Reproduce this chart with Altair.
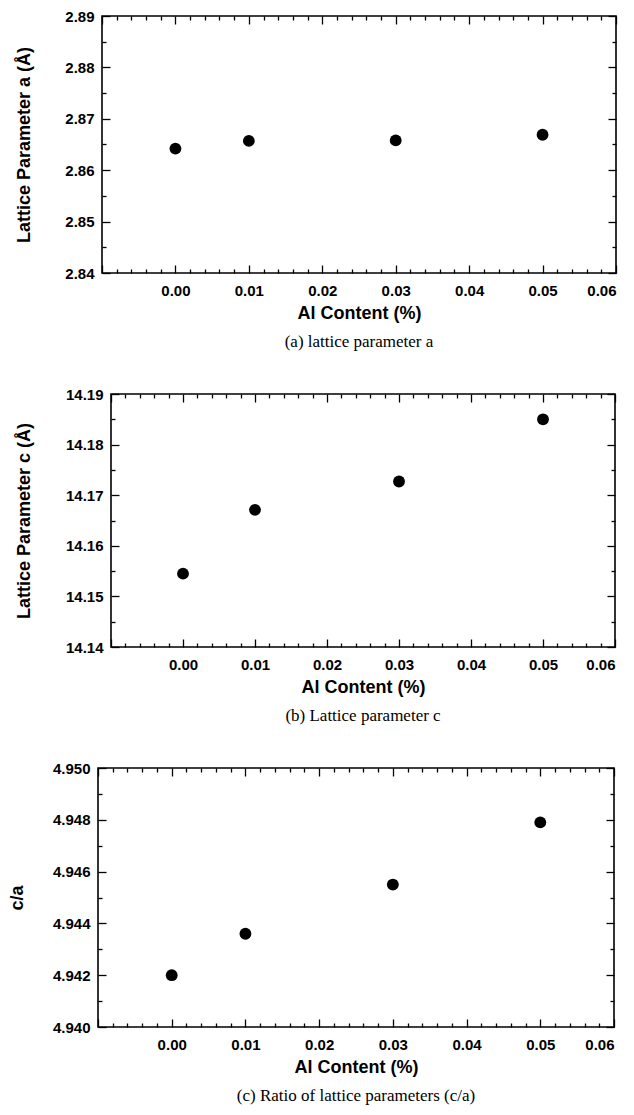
import altair as alt
import pandas as pd

# ---- data ----
al_content = [0.00, 0.01, 0.03, 0.05]
lattice_a = [2.8642, 2.8657, 2.8658, 2.8669]
lattice_c = [14.1545, 14.1671, 14.1727, 14.1850]
ratio_ca = [4.9420, 4.9436, 4.9455, 4.9479]

x_domain = [-0.01, 0.06]
x_labels = [0.00, 0.01, 0.02, 0.03, 0.04, 0.05, 0.06]
x_ticks = [round(-0.01 + 0.002 * i, 3) for i in range(36)]

a_domain = [2.84, 2.89]
a_labels = [2.84, 2.85, 2.86, 2.87, 2.88, 2.89]
a_ticks = [round(2.84 + 0.005 * i, 3) for i in range(11)]

c_domain = [14.14, 14.19]
c_labels = [14.14, 14.15, 14.16, 14.17, 14.18, 14.19]
c_ticks = [round(14.14 + 0.005 * i, 3) for i in range(11)]

r_domain = [4.940, 4.950]
r_labels = [4.940, 4.942, 4.944, 4.946, 4.948, 4.950]
r_ticks = [round(4.940 + 0.001 * i, 3) for i in range(11)]

SANS = "Liberation Sans"
SERIF = "Liberation Serif"
MAJOR, MINOR = 8, 4


def tick_size(mult):
    return {
        "condition": {
            "test": f"abs(datum.value*{mult} - round(datum.value*{mult})) < 0.001",
            "value": MAJOR,
        },
        "value": MINOR,
    }


def panel(values, y_title, y_domain, y_labels, y_ticks, y_mult, y_fmt,
          width, height, extent, title_pad, caption):
    df = pd.DataFrame({"x": al_content, "y": values})
    base = alt.Chart(df)
    xs = alt.Scale(domain=x_domain, nice=False, zero=False)
    ys = alt.Scale(domain=y_domain, nice=False, zero=False)

    pts = base.mark_circle(size=140, color="black", opacity=1).encode(
        x=alt.X("x:Q", scale=xs, axis=alt.Axis(
            values=x_labels, format=".2f", title="Al Content (%)",
            ticks=False, tickSize=0, domain=False, grid=False,
            labelPadding=10, titlePadding=6,
            labelFont=SANS, labelFontSize=15, labelFontWeight="bold", labelColor="black",
            titleFont=SANS, titleFontSize=18, titleFontWeight="bold", titleColor="black")),
        y=alt.Y("y:Q", scale=ys, axis=alt.Axis(
            values=y_labels, format=y_fmt, title=y_title,
            ticks=False, tickSize=0, domain=False, grid=False,
            labelPadding=8, minExtent=extent, maxExtent=extent, titlePadding=title_pad,
            labelFont=SANS, labelFontSize=15, labelFontWeight="bold", labelColor="black",
            titleFont=SANS, titleFontSize=18, titleFontWeight="bold", titleColor="black")),
    )

    def tick_axis(orient, offset, vals, mult):
        return alt.Axis(orient=orient, offset=offset, values=vals,
                        tickSize=tick_size(mult), tickColor="black", tickWidth=1.3,
                        labels=False, domain=False, grid=False, title=None)

    inner1 = base.mark_circle(opacity=0).encode(
        x=alt.X("x:Q", scale=xs, axis=tick_axis("top", -height, x_ticks, 100)),
        y=alt.Y("y:Q", scale=ys, axis=tick_axis("right", -width, y_ticks, y_mult)),
    )
    inner2 = base.mark_circle(opacity=0).encode(
        x=alt.X("x:Q", scale=xs, axis=tick_axis("bottom", -height, x_ticks, 100)),
        y=alt.Y("y:Q", scale=ys, axis=tick_axis("left", -width, y_ticks, y_mult)),
    )

    return alt.layer(pts, inner1, inner2).resolve_axis(
        x="independent", y="independent"
    ).properties(
        width=width, height=height,
        title=alt.TitleParams(caption, orient="bottom", anchor="middle", frame="group",
                              font=SERIF, fontSize=17, fontWeight="normal",
                              color="black", offset=12),
    )


def spacer():
    return alt.Chart(pd.DataFrame({"s": [0]})).mark_point(opacity=0, size=1).encode(
        x=alt.value(0), y=alt.value(0)
    ).properties(width=1, height=1, view=alt.ViewBackground(stroke="transparent"))


pa = panel(lattice_a, "Lattice Parameter a (Å)", a_domain, a_labels, a_ticks, 100, ".2f",
           514, 257, 45, 24, "(a) lattice parameter a")
pb = panel(lattice_c, "Lattice Parameter c (Å)", c_domain, c_labels, c_ticks, 100, ".2f",
           504, 253, 50, 28, "(b) Lattice parameter c")
pc = panel(ratio_ca, "c/a", r_domain, r_labels, r_ticks, 500, ".3f",
           516, 259, 47, 25, "(c) Ratio of lattice parameters (c/a)")

row_a = alt.hconcat(spacer(), pa, spacing=7)
row_b = alt.hconcat(spacer(), pb, spacing=7)
row_c = alt.hconcat(spacer(), pc, spacing=0)

chart = alt.vconcat(row_a, row_b, row_c, spacing=35).properties(
    padding={"left": -5, "top": 0, "right": 0, "bottom": 0},
    background="white",
).configure_view(stroke="black", strokeWidth=1.6)

chart.save("out.html", embed_options={"renderer": "svg", "actions": False})
